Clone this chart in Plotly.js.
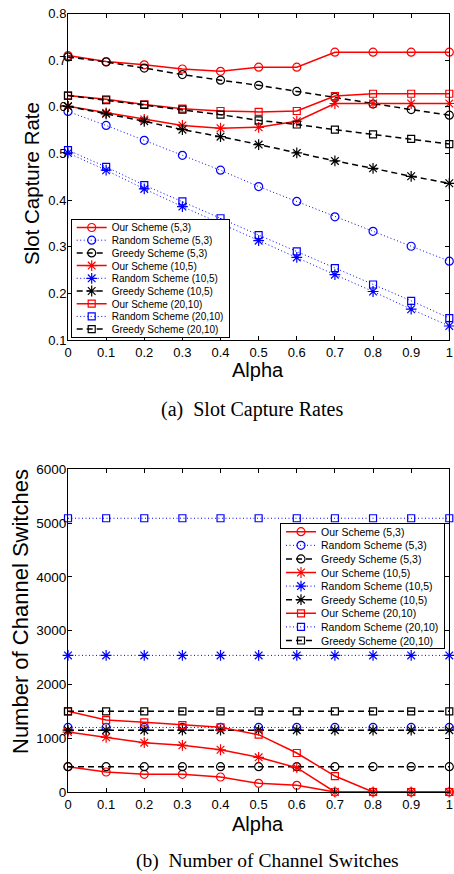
<!DOCTYPE html>
<html><head><meta charset="utf-8">
<script src="https://cdn.plot.ly/plotly-3.0.1.min.js"></script>
<style>html,body{margin:0;padding:0;background:#fff;}#chart{width:454px;height:874px;}</style>
</head><body><div id="chart"></div>
<script>
// ---- data ----
const alpha = [0, 0.1, 0.2, 0.3, 0.4, 0.5, 0.6, 0.7, 0.8, 0.9, 1.0];
const seriesNames = [
  'Our Scheme (5,3)', 'Random Scheme (5,3)', 'Greedy Scheme (5,3)',
  'Our Scheme (10,5)', 'Random Scheme (10,5)', 'Greedy Scheme (10,5)',
  'Our Scheme (20,10)', 'Random Scheme (20,10)', 'Greedy Scheme (20,10)'
];
// (a) Slot capture rate
const capOur53      = [0.710, 0.697, 0.690, 0.681, 0.676, 0.685, 0.685, 0.717, 0.717, 0.717, 0.717];
const capRandom53   = [0.590, 0.560, 0.528, 0.496, 0.464, 0.429, 0.397, 0.364, 0.333, 0.301, 0.269];
const capGreedy53   = [0.707, 0.696, 0.683, 0.669, 0.657, 0.646, 0.633, 0.620, 0.606, 0.594, 0.582];
const capOur105     = [0.601, 0.587, 0.573, 0.560, 0.554, 0.556, 0.569, 0.607, 0.607, 0.607, 0.607];
const capRandom105  = [0.501, 0.464, 0.424, 0.386, 0.350, 0.313, 0.277, 0.240, 0.204, 0.166, 0.130];
const capGreedy105  = [0.601, 0.585, 0.569, 0.551, 0.536, 0.519, 0.501, 0.484, 0.468, 0.451, 0.436];
const capOur2010    = [0.624, 0.616, 0.605, 0.596, 0.591, 0.589, 0.591, 0.623, 0.628, 0.628, 0.628];
const capRandom2010 = [0.507, 0.471, 0.432, 0.397, 0.361, 0.325, 0.290, 0.254, 0.219, 0.184, 0.147];
const capGreedy2010 = [0.624, 0.614, 0.604, 0.594, 0.583, 0.571, 0.562, 0.551, 0.541, 0.531, 0.520];
// (b) Number of channel switches
const swOur53      = [470, 372, 329, 329, 279, 161, 124, 0, 0, 0, 0];
const swRandom53   = [1200, 1200, 1200, 1200, 1200, 1200, 1200, 1200, 1200, 1200, 1200];
const swGreedy53   = [470, 470, 470, 470, 470, 470, 470, 470, 470, 470, 470];
const swOur105     = [1115, 1016, 917, 868, 786, 645, 452, 0, 0, 0, 0];
const swRandom105  = [2540, 2540, 2540, 2540, 2540, 2540, 2540, 2540, 2540, 2540, 2540];
const swGreedy105  = [1150, 1150, 1150, 1150, 1150, 1150, 1150, 1150, 1150, 1150, 1150];
const swOur2010    = [1500, 1338, 1295, 1245, 1202, 1066, 725, 297, 0, 0, 0];
const swRandom2010 = [5090, 5090, 5090, 5090, 5090, 5090, 5090, 5090, 5090, 5090, 5090];
const swGreedy2010 = [1500, 1500, 1500, 1500, 1500, 1500, 1500, 1500, 1500, 1500, 1500];

const xTickVals = [0, 0.1, 0.2, 0.3, 0.4, 0.5, 0.6, 0.7, 0.8, 0.9, 1];
const xTickText = ['0', '0.1', '0.2', '0.3', '0.4', '0.5', '0.6', '0.7', '0.8', '0.9', '1'];
const capTickVals = [0.1, 0.2, 0.3, 0.4, 0.5, 0.6, 0.7, 0.8];
const capTickText = ['0.1', '0.2', '0.3', '0.4', '0.5', '0.6', '0.7', '0.8'];
const swTickVals = [0, 1000, 2000, 3000, 4000, 5000, 6000];
const swTickText = ['0', '1000', '2000', '3000', '4000', '5000', '6000'];

const xTitle = 'Alpha';
const capYTitle = 'Slot Capture Rate';
const swYTitle = 'Number of Channel Switches';
const capCaption = '(a)  Slot Capture Rates';
const swCaption = '(b)  Number of Channel Switches';

// ---- styles ----
const schemeStyle = {
  our:    {color: '#ff0000', dash: 'solid',   width: 1.5},
  random: {color: '#0000ff', dash: '1px,2.5px', width: 1},
  greedy: {color: '#000000', dash: '6px,4px',  width: 1.5}
};
const sizeStyle = [
  {symbol: 'circle-open',   size: 8},
  {symbol: 'asterisk-open', size: 9},
  {symbol: 'square-open',   size: 7}
];
const kinds = ['our', 'random', 'greedy'];

function makeTraces(seriesList, xa, ya, legendId) {
  return seriesList.map((ys, i) => {
    const st = schemeStyle[kinds[i % 3]];
    const mk = sizeStyle[Math.floor(i / 3)];
    return {
      type: 'scatter', mode: 'lines+markers', x: alpha, y: ys,
      name: seriesNames[i], xaxis: xa, yaxis: ya, legend: legendId,
      cliponaxis: false,
      line: {color: st.color, dash: st.dash, width: st.width},
      marker: {symbol: mk.symbol, size: mk.size, color: st.color, line: {color: st.color, width: 1.2}}
    };
  });
}

const capSeries = [capOur53, capRandom53, capGreedy53, capOur105, capRandom105, capGreedy105, capOur2010, capRandom2010, capGreedy2010];
const swSeries = [swOur53, swRandom53, swGreedy53, swOur105, swRandom105, swGreedy105, swOur2010, swRandom2010, swGreedy2010];

const data = makeTraces(capSeries, 'x', 'y', 'legend').concat(makeTraces(swSeries, 'x2', 'y2', 'legend2'));

const font = 'Liberation Sans, Arial, Helvetica, sans-serif';
const serif = 'Liberation Serif, Times New Roman, serif';
const axisCommon = {
  showline: true, linecolor: '#000', linewidth: 1, mirror: 'ticks',
  ticks: 'inside', ticklen: 4, tickwidth: 1, tickcolor: '#000',
  showgrid: false, zeroline: false,
  tickfont: {family: font, size: 13, color: '#000'}
};
const H = 874, W = 454;
function ann(text, px, py, size, fam, angle) {
  return {text: text, xref: 'paper', yref: 'paper', x: px / W, y: 1 - py / H,
    xanchor: 'center', yanchor: 'middle', showarrow: false, textangle: angle || 0,
    font: {family: fam, size: size, color: '#000'}};
}
const layout = {
  width: W, height: H,
  margin: {l: 0, r: 0, t: 0, b: 0},
  paper_bgcolor: '#fff', plot_bgcolor: '#fff',
  font: {family: font, color: '#000'},
  xaxis: Object.assign({}, axisCommon, {
    domain: [68 / W, 449.3 / W], anchor: 'y', range: [0, 1],
    tickvals: xTickVals, ticktext: xTickText
  }),
  yaxis: Object.assign({}, axisCommon, {
    domain: [1 - 340 / H, 1 - 13.5 / H], anchor: 'x', range: [0.1, 0.8],
    tickvals: capTickVals, ticktext: capTickText, ticklabelstandoff: -2
  }),
  xaxis2: Object.assign({}, axisCommon, {
    domain: [68 / W, 449.3 / W], anchor: 'y2', range: [0, 1],
    tickvals: xTickVals, ticktext: xTickText
  }),
  yaxis2: Object.assign({}, axisCommon, {
    domain: [1 - 792 / H, 1 - 469.3 / H], anchor: 'x2', range: [0, 6000],
    tickvals: swTickVals, ticktext: swTickText, ticklabelstandoff: -2,
    tickfont: {family: font, size: 13.5, color: '#000'}
  }),
  legend: {
    x: 70.7 / W, xanchor: 'left', y: 1 - 219 / H, yanchor: 'top',
    bgcolor: '#fff', bordercolor: '#000', borderwidth: 1,
    font: {family: font, size: 10, color: '#000'}, traceorder: 'normal'
  },
  legend2: {
    x: 445 / W, xanchor: 'right', y: 1 - 522.7 / H, yanchor: 'top',
    bgcolor: '#fff', bordercolor: '#000', borderwidth: 1,
    font: {family: font, size: 10.5, color: '#000'}, traceorder: 'normal'
  },
  showlegend: true,
  annotations: [
    ann(xTitle, 258, 370, 20, font),
    ann(capYTitle, 31, 184, 20.5, font, -90),
    ann(capCaption, 252, 410, 20, serif),
    ann(xTitle, 258, 824, 20, font),
    ann(swYTitle, 20, 612, 22, font, -90),
    ann(swCaption, 267, 861, 19.5, serif)
  ]
};

// Tighten legend rows to match the compact MATLAB legend spacing
function compactLegend(gd, legId, firstY, rowH, padBottom) {
  const leg = gd.querySelector('g.' + legId);
  if (!leg) return;
  const items = leg.querySelectorAll('g.traces');
  items.forEach((t, i) => {
    const m = /translate\(\s*([-\d.]+)[ ,]+([-\d.]+)\s*\)/.exec(t.getAttribute('transform') || '');
    const x = m ? parseFloat(m[1]) : 1;
    t.setAttribute('transform', 'translate(' + x + ',' + (firstY + i * rowH) + ')');
  });
  const total = firstY + (items.length - 1) * rowH + padBottom;
  const bg = leg.querySelector('rect.bg');
  if (bg) bg.setAttribute('height', total);
}

Plotly.newPlot('chart', data, layout, {staticPlot: true, displayModeBar: false}).then(gd => {
  compactLegend(gd, 'legend', 8.5, 12.7, 8);
  compactLegend(gd, 'legend2', 9, 13.6, 7.8);
});
</script>
</body></html>
